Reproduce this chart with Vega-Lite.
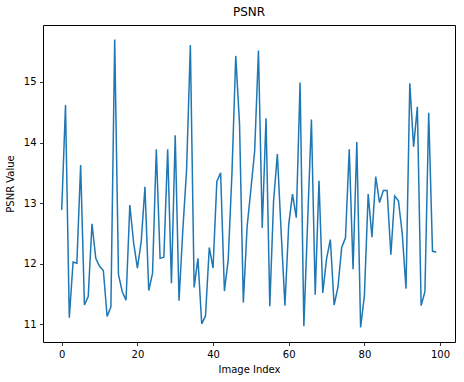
{
  "$schema": "https://vega.github.io/schema/vega-lite/v6.json",
  "autosize": {"type": "none"},
  "padding": {"left": 43, "top": 25, "right": 9, "bottom": 40},
  "width": 412,
  "height": 317,
  "title": {"text": "PSNR", "fontSize": 12, "fontWeight": "normal", "font": "DejaVu Sans", "color": "black", "offset": 6},
  "config": {
    "view": {"stroke": "black", "strokeWidth": 1},
    "axis": {
      "labelFont": "DejaVu Sans", "labelFontSize": 10, "labelColor": "black",
      "titleFont": "DejaVu Sans", "titleFontSize": 10, "titleFontWeight": "normal", "titleColor": "black",
      "tickColor": "black", "tickSize": 3.5, "tickWidth": 0.8, "labelPadding": 3.5,
      "domain": false, "grid": false
    }
  },
  "data": {"values": [
    {"idx": 0, "psnr": 12.89}, {"idx": 1, "psnr": 14.62}, {"idx": 2, "psnr": 11.11}, {"idx": 3, "psnr": 12.03},
    {"idx": 4, "psnr": 12.01}, {"idx": 5, "psnr": 13.63}, {"idx": 6, "psnr": 11.32}, {"idx": 7, "psnr": 11.46},
    {"idx": 8, "psnr": 12.66}, {"idx": 9, "psnr": 12.09}, {"idx": 10, "psnr": 11.96}, {"idx": 11, "psnr": 11.89},
    {"idx": 12, "psnr": 11.13}, {"idx": 13, "psnr": 11.29}, {"idx": 14, "psnr": 15.70}, {"idx": 15, "psnr": 11.82},
    {"idx": 16, "psnr": 11.54}, {"idx": 17, "psnr": 11.40}, {"idx": 18, "psnr": 12.97}, {"idx": 19, "psnr": 12.35},
    {"idx": 20, "psnr": 11.93}, {"idx": 21, "psnr": 12.36}, {"idx": 22, "psnr": 13.27}, {"idx": 23, "psnr": 11.56},
    {"idx": 24, "psnr": 11.84}, {"idx": 25, "psnr": 13.89}, {"idx": 26, "psnr": 12.09}, {"idx": 27, "psnr": 12.11},
    {"idx": 28, "psnr": 13.89}, {"idx": 29, "psnr": 11.68}, {"idx": 30, "psnr": 14.12}, {"idx": 31, "psnr": 11.39},
    {"idx": 32, "psnr": 12.55}, {"idx": 33, "psnr": 13.55}, {"idx": 34, "psnr": 15.61}, {"idx": 35, "psnr": 11.61},
    {"idx": 36, "psnr": 12.09}, {"idx": 37, "psnr": 11.01}, {"idx": 38, "psnr": 11.14}, {"idx": 39, "psnr": 12.27},
    {"idx": 40, "psnr": 11.93}, {"idx": 41, "psnr": 13.36}, {"idx": 42, "psnr": 13.50}, {"idx": 43, "psnr": 11.55},
    {"idx": 44, "psnr": 12.06}, {"idx": 45, "psnr": 13.50}, {"idx": 46, "psnr": 15.43}, {"idx": 47, "psnr": 14.30},
    {"idx": 48, "psnr": 11.36}, {"idx": 49, "psnr": 12.61}, {"idx": 50, "psnr": 13.23}, {"idx": 51, "psnr": 13.86},
    {"idx": 52, "psnr": 15.52}, {"idx": 53, "psnr": 12.59}, {"idx": 54, "psnr": 14.40}, {"idx": 55, "psnr": 11.30},
    {"idx": 56, "psnr": 13.04}, {"idx": 57, "psnr": 13.81}, {"idx": 58, "psnr": 12.52}, {"idx": 59, "psnr": 11.31},
    {"idx": 60, "psnr": 12.65}, {"idx": 61, "psnr": 13.15}, {"idx": 62, "psnr": 12.76}, {"idx": 63, "psnr": 14.99},
    {"idx": 64, "psnr": 10.97}, {"idx": 65, "psnr": 12.70}, {"idx": 66, "psnr": 14.38}, {"idx": 67, "psnr": 11.49},
    {"idx": 68, "psnr": 13.37}, {"idx": 69, "psnr": 11.52}, {"idx": 70, "psnr": 12.08}, {"idx": 71, "psnr": 12.40},
    {"idx": 72, "psnr": 11.32}, {"idx": 73, "psnr": 11.61}, {"idx": 74, "psnr": 12.27}, {"idx": 75, "psnr": 12.43},
    {"idx": 76, "psnr": 13.89}, {"idx": 77, "psnr": 11.91}, {"idx": 78, "psnr": 14.01}, {"idx": 79, "psnr": 10.95},
    {"idx": 80, "psnr": 11.47}, {"idx": 81, "psnr": 13.15}, {"idx": 82, "psnr": 12.44}, {"idx": 83, "psnr": 13.44},
    {"idx": 84, "psnr": 13.01}, {"idx": 85, "psnr": 13.21}, {"idx": 86, "psnr": 13.21}, {"idx": 87, "psnr": 12.15},
    {"idx": 88, "psnr": 13.12}, {"idx": 89, "psnr": 13.04}, {"idx": 90, "psnr": 12.50}, {"idx": 91, "psnr": 11.59},
    {"idx": 92, "psnr": 14.98}, {"idx": 93, "psnr": 13.93}, {"idx": 94, "psnr": 14.59}, {"idx": 95, "psnr": 11.31},
    {"idx": 96, "psnr": 11.54}, {"idx": 97, "psnr": 14.49}, {"idx": 98, "psnr": 12.21}, {"idx": 99, "psnr": 12.19}
  ]},
  "mark": {"type": "line", "color": "#1f77b4", "strokeWidth": 1.5},
  "encoding": {
    "x": {
      "field": "idx", "type": "quantitative", "title": "Image Index",
      "scale": {"domain": [-4.95, 103.95], "nice": false, "zero": false},
      "axis": {"values": [0, 20, 40, 60, 80, 100], "titlePadding": 5}
    },
    "y": {
      "field": "psnr", "type": "quantitative", "title": "PSNR Value",
      "scale": {"domain": [10.71, 15.94], "nice": false, "zero": false},
      "axis": {"values": [11, 12, 13, 14, 15], "format": "d", "titlePadding": 8}
    }
  }
}
